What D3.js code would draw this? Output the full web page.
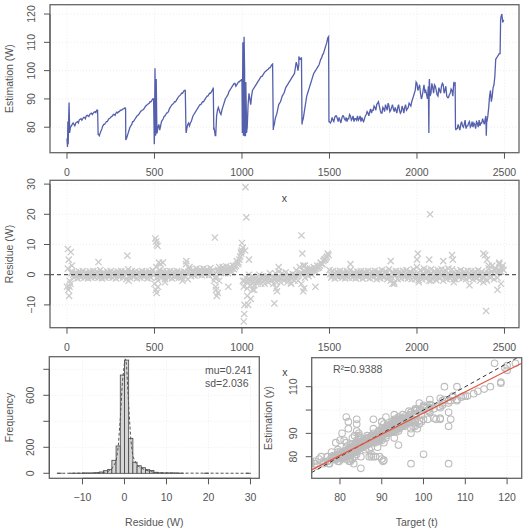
<!DOCTYPE html>
<html>
<head>
<meta charset="utf-8">
<script src="https://cdn.jsdelivr.net/npm/d3@7"></script>
<style>
body { margin: 0; background: #fff; }
text { font-family: "Liberation Sans", Arial, sans-serif; font-size: 10.5px; fill: #555; }
</style>
</head>
<body>
<svg id="chart" width="524" height="529"></svg>
<script>
// estimation (W), readings at samples t = 0, 10, ... 2490
var estimation = [
    76, 84, 80, 81, 81, 81.5, 82, 82.5, 83, 83, 83.5, 84, 84, 84.5, 85, 85, 85.5, 86,
    77.5, 78, 79.5, 81, 81.5, 82, 83, 83.5, 84, 84.5, 85, 85, 85.5, 86, 86.5, 86.8,
    76, 78, 80, 81, 82, 83, 84, 84.5, 85.5, 86, 86.5, 87.5, 88, 88.5, 89, 90,
    77, 79, 80, 79, 82, 83, 84, 85, 85.5, 87, 88, 88.5, 89, 90, 91, 91.5, 92, 93,
    79, 81, 80.5, 82, 84, 85, 86, 87, 88, 88.5, 89, 90, 91, 91.5, 92, 93,
    80, 77, 86, 86, 84.5, 87, 89, 90.5, 91.5, 93, 94, 95, 95.5, 95, 96, 96.5,
    96, 78, 77, 80, 92, 88, 93, 94, 95, 96, 97, 98, 98.5, 99.5, 100, 100.5, 101, 102,
    80, 83, 85, 88, 89, 91, 92, 94, 95, 96, 97, 98, 99, 103, 100, 104,
    104.5, 83, 87, 91, 93, 95, 97, 99, 100, 101, 102, 104, 105.5, 107, 109, 111.5,
    82, 82, 82.5, 83.5, 84, 82, 82.5, 83, 84, 82.5, 82, 83, 84, 83, 82, 83, 84, 83,
    82, 82.5, 83, 84.5, 85, 85.5, 85, 86, 87, 88, 89, 86, 85, 86.5, 88, 86, 87.5, 86,
    88, 85.5, 86, 87, 86, 85.5, 86.5, 87, 86, 87, 88, 89, 91, 93, 95.5, 94, 92, 91,
    95, 93, 90, 96, 92, 94, 95, 93, 91, 93, 94.5, 95, 93, 91, 90.5, 92, 93, 95.5,
    80, 79.5, 80, 81, 80.5, 81, 79.5, 80.5, 82, 80.5, 80, 81, 82, 80, 80.5, 81.5, 82, 83,
    82, 87, 93, 91, 95, 104, 105, 106, 119, 117
];
// estimation (W), readings at samples t = 5, 15, ... 2495
var estimationB = [
    82, 80, 80.5, 81.5, 80.5, 81.8, 81.5, 82.8, 82.5, 83.5, 83, 84.2, 83.8, 84.8, 84.5, 85.3, 85.2, 86,
    77, 78.8, 80.5, 81, 82, 82.5, 83.2, 83.8, 84.5, 84.2, 85.3, 85.5, 86, 86.2, 86.5, 86.5,
    77, 79, 80.5, 82, 82.5, 83.5, 84.2, 85, 85.8, 86.2, 87, 87.8, 88.3, 89, 89.5, 90,
    85, 78, 81, 80.5, 82.5, 83.8, 84.5, 85.2, 86.5, 87.5, 88.2, 89, 89.5, 90.5, 91.2, 92, 92.5, 93,
    79.5, 81.5, 81.5, 83, 84.5, 85.5, 86.5, 87.5, 88, 89, 89.5, 90.5, 91, 92, 92.5, 93.8,
    78, 84, 87, 85, 86, 88, 90, 91, 92.5, 93.5, 94.5, 95.5, 94.5, 95.5, 96, 96.5,
    110, 100, 85, 88, 90, 91, 93.5, 94.5, 95.5, 96.5, 97.5, 98, 99, 99.8, 100.3, 101, 101.5, 102.3,
    81, 84, 86.5, 88.5, 90, 91.5, 93, 94.5, 95.5, 96.5, 97.5, 98.5, 101, 102, 102, 104,
    82, 85, 89, 92, 94, 96, 98, 99.5, 100.5, 101.5, 103, 104.5, 106, 108, 110, 112,
    81.5, 83.5, 82, 84, 83, 83.5, 81.5, 84, 83, 83.5, 83, 84.5, 82.5, 84, 83, 82.5, 82.5, 84,
    83.5, 82, 84, 85.5, 84, 86.5, 86, 87.5, 86, 88.5, 87.5, 85, 87, 85.5, 87, 88.5, 85.5, 87,
    86.5, 87, 85, 88, 85, 87.5, 85, 88, 86.5, 88.5, 87.5, 90, 92, 96, 93, 95, 90, 93,
    92.5, 91.5, 94.5, 91, 95.5, 92, 94.5, 91.5, 94, 92, 95.5, 92, 94.5, 90.5, 91.5, 93.5, 91, 95,
    79.5, 81, 79, 82, 80, 82.5, 80.5, 81.5, 80, 82, 81.5, 79.5, 81.5, 82.5, 81.5, 83, 81, 80,
    84, 91, 89, 94, 98, 104.5, 105.5, 106, 120, 118
];

// sharp spikes and drops between readings
var spikeT = [3, 7, 12, 15, 178, 333, 336, 499, 503, 506, 510, 514, 676, 681, 836, 839, 847,
    997, 1002, 1008, 1012, 1016, 1022, 1026, 1179, 1325, 1338, 1343, 1497,
    2068, 2071, 2218, 2222, 2394, 2396, 2399, 2478];
var spikeV = [73, 74, 88.7, 78, 77.5, 86.8, 75.5, 74, 100.8, 77, 97, 78, 93.2, 78, 94, 79, 77,
    97, 78, 77, 112, 77, 96, 78, 79, 105, 104.5, 81, 82,
    78, 97, 96, 79, 84, 77, 83, 118];

// residue (W) = target - estimation, at t = 0, 10, ... 2490
var residue = [
    -4, 5, -3, 1, -1, 0.8, -1.2, 1, -0.8, 1.2, -1, 0.8, -1.2, 1, -1, 1.2, -0.8, 1,
    -1, 1.5, -1.2, 0.8, -1, 1, -0.8, 1.2, -1, 0.8, -1.2, 1, -0.8, 1.2, -1, 1,
    -1.5, 1.8, -1, 1.2, -0.8, 1, -1.2, 0.8, -1, 1.2, -0.8, 1, -1.2, 1, -1, 1.5,
    -3, 2.5, -2, 1.5, -1, 1.2, -1.5, 1, -1, 1.2, -1.2, 1, -0.8, 1.2, -1, 0.8, -2, 1,
    3.5, -1.5, 1.8, -0.5, 1.5, -0.3, 2, 0, 1.8, -0.2, 2, 0, 1.8, -0.2, 2.2, 0,
    -2, -4, 1, 2.5, 0.5, 2.5, 0.5, 2.8, 0.5, 2.5, 1, 3, 2.5, 4.5, 4, 6,
    8, -4, -1, -4.5, 0, -3.5, -0.5, -3.5, -1, -3, 0, -3, -0.5, -3, -0.5, -2.5, 0.5, -2,
    -3, 0.5, -2.5, 1, -2.5, 0.5, -2, 0.8, -2.5, 0, -2.8, 0.2, -2, 1.5, -2, 2.5,
    -3, 3, -1, 2, -0.5, 2, 0, 2.5, 1, 3, 2.5, 4, 3.5, 5, 5.5, 7,
    1.5, -1, 1.2, -1.2, 1, -0.8, 1.3, -1, 1, -1.2, 1.2, -1, 1.5, -1, 0.8, -1.2, 1, -1,
    1.2, -1.3, 1, -0.8, 1.2, -1.2, 1, -1, 1.3, -1.5, 1, -1.2, 1.5, -1, 1.2, -1.5, 1.8, -2,
    1, -2.5, 1.2, -1.5, 1, -1.2, 1.3, -1, 1.5, -1.2, 1, -1.5, 1.8, -1.5, 2.5, -1.8, 1.5, -1.5,
    2, -1.2, 1.5, -2, 1.8, -1.5, 1.2, -1.8, 1.5, -1.2, 1.8, -2, 1.5, -1.5, 2, -1.2, 1.8, -1.5,
    -1.5, 1.2, -1, 1.5, -1.2, 1, -1.5, 1.3, -1, 1.2, -1.5, 1, -1.2, 1.5, -2, 1, -2.5, 0.5,
    -2, 2, -1, 3, -1.5, 2, -1, 3.5, 1, 3
];
// residue (W) at t = 5, 15, ... 2495
var residueB = [
    2, -2, 0.5, 0, 0.3, -0.3, 0.2, -0.2, 0.4, -0.3, 0.2, -0.4, 0.3, 0, -0.3, 0.4, 0.2, -0.2,
    0.3, -0.3, 0.2, -0.4, 0.3, 0, -0.2, 0.3, 0.2, -0.3, 0.4, -0.2, 0.3, 0, -0.3, 0.5,
    0.5, -0.3, 0.2, 0, -0.4, 0.3, 0.2, -0.3, 0.4, 0, -0.2, 0.3, -0.4, 0.2, 0.3, 0,
    0.5, -1, 0.5, -0.3, 0.2, -0.4, 0.3, 0, -0.3, 0.2, 0.4, -0.2, 0.3, -0.3, 0.2, -1, 0.5, -0.5,
    0.5, 1, 0.5, 1.2, 0.8, 0.6, 1, 0.8, 1.2, 0.7, 1, 0.9, 1.1, 0.8, 1, 1.5,
    -1, -0.5, 1.5, 1.2, 1.5, 1.8, 1.2, 1.6, 1.4, 1.8, 2, 1.8, 3, 3.5, 5, 7.5,
    -2, -2, -2.5, -1.5, -2, -1.8, -2.2, -1.5, -2, -1.5, -1.8, -1.2, -2, -1.5, -1.2, -1, -1.5, -0.8,
    -1, -1.2, -0.8, -1, -1.2, -0.8, -0.5, -1, -1.2, -0.8, -1, -0.5, -0.2, -0.5, 0, 0.5,
    0.5, 1, 0.8, 1, 1, 1.2, 1.5, 1.8, 2, 2.2, 3, 3.5, 4.5, 5, 6, 6.5,
    0.2, -0.3, 0.3, 0, -0.2, 0.4, -0.3, 0.2, 0, -0.4, 0.3, 0.1, -0.2, 0.3, -0.1, 0.2, -0.3, 0.4,
    0, -0.2, 0.3, -0.4, 0.2, 0, -0.3, 0.4, -0.2, 0.1, 0.3, -0.3, 0.2, -0.5, 0.3, -0.5, 0, -0.8,
    0.2, -0.3, 0.4, -0.2, 0, 0.3, -0.3, 0.2, 0.5, -0.4, 0.3, -0.2, 0.5, -0.3, 0.4, 0, -0.4, 0.3,
    -0.2, 0.5, -0.5, 0.2, 0.4, -0.3, 0.2, -0.5, 0.4, 0, -0.3, 0.5, -0.4, 0.3, 0.2, -0.3, 0.5, 0,
    0.2, -0.3, 0.3, 0, -0.4, 0.2, -0.2, 0.3, 0, -0.3, 0.4, -0.2, 0.2, -0.5, 0, -0.8, -1, -1.5,
    0.5, 0.5, 1, 0.5, 1.5, 0.5, 1.5, 1, 2, 1.5
];

// outlying residues: sample, residue, estimation at that sample
var outT = [5, 8, 12, 22, 28, 15, 180, 345, 352, 505, 510, 512, 518, 508, 512, 520, 525, 535, 548, 560,
    682, 700, 845, 852, 856, 862, 870, 922, 1000, 995, 1005, 1010, 1013, 1020, 1025, 1015, 1018, 1030, 1035, 1040,
    1050, 1060, 1070, 1185, 1195, 1200, 1210, 1280, 1340, 1345, 1350, 1355, 1360, 1420, 1620, 1850, 1860, 1870,
    2000, 2005, 2010, 2070, 2075, 2080, 2150, 2200, 2205, 2210, 2300, 2380, 2390, 2395, 2400, 2410, 2460, 2470, 2480];
var outR = [8.5, -5, -7, 7.5, 3, -4, 4.2, 6.3, -2, 12, 11, 10, 9.5, -5, -6, -4, 4, 3.5, 4, -2.5,
    4.5, 2.5, 12.3, -5, -7, -6, -2, -4, 10.5, 7, 9, -15.5, -13, 29, 19, -10, 8, -7, -10, 5,
    -8, -5, -5, -9.5, -4.5, -5.5, 2.5, -3, 13, 7, -5.5, -4.5, 3, -4, 3.5, 4.5, -3, -3,
    5, 7, -2.5, 5, 20, -2, 4.5, 6.5, 5, -2.5, -3.5, 7, 6.5, -12, 5, 3, -5, 4, -3];
var outE = [80, 78, 86, 80, 81, 79, 78, 77, 78, 78.5, 79, 75, 80, 95, 97, 82, 79, 80, 83, 84,
    78, 80, 78, 88, 87, 87, 86, 92, 96, 96, 85, 97, 95, 77, 81, 92, 80, 91, 94, 88,
    96, 98, 95, 90, 86, 89, 87, 97, 93, 99, 90, 89, 87, 103, 84, 86, 88, 87,
    94, 90, 96, 92, 77, 96, 93, 92, 93, 96, 83, 80, 81, 96, 80, 88, 110, 106, 120];

// histogram of residues, bins of width 1 starting at -16
var histStart = -16;
var histCounts = [1, 0, 0, 1, 1, 1, 3, 2, 3, 5, 10, 20, 30, 100, 210, 756, 871, 269, 85, 58, 43, 28, 22, 8,
    4, 3, 3, 3, 2, 1, 0, 0, 0, 0, 0, 1, 0, 0, 0, 0, 0, 0, 0, 0, 0, 1];
var densX = [-16, -8, -6, -4, -3, -2, -1.5, -1, -0.5, 0, 0.25, 0.5, 1, 1.5, 2, 3, 4, 5, 6, 7, 8, 10, 14, 20, 30];
var densY = [0, 1, 3, 12, 35, 90, 200, 420, 700, 850, 880, 830, 520, 260, 130, 60, 40, 25, 15, 8, 4, 2, 1, 1, 0];
var mu = 0.241, sd = 2.036;

// linear fit of estimation on target
var fitCoef = [7.7, 0.91];
var r2 = 0.9388;

// axis limits and ticks
var idxLim = [-97, 2583], estLim = [71.0, 123.3], resLim = [-17.55, 31.26];
var histXLim = [-17.9, 32.1], freqLim = [-38.5, 897];
var tgtLim = [73.23, 123.5], estYLim = [70.74, 122.43];
var idxTicks = [0, 500, 1000, 1500, 2000, 2500];
var estTicks = [80, 90, 100, 110, 120];
var resTicks = [-10, 0, 10, 20, 30];
var histTicks = [-10, 0, 10, 20, 30];
var freqTicks = [0, 200, 400, 600, 800], freqLabels = [0, 200, 600];
var tgtTicks = [80, 90, 100, 110, 120];
var estYTicks = [80, 90, 100, 110], estYLabels = [80, 90, 110];

var svg = d3.select("#chart");
var axisCol = "#555", boxCol = "#666";

function axis(g, scale, ticks, labels, side, pos) {
    var a = g.append("g").attr("stroke", axisCol);
    if (side == "bottom") {
        a.append("line").attr("x1", scale(ticks[0])).attr("x2", scale(ticks[ticks.length - 1]))
            .attr("y1", pos).attr("y2", pos);
        ticks.forEach(function (t) {
            a.append("line").attr("x1", scale(t)).attr("x2", scale(t)).attr("y1", pos).attr("y2", pos + 6);
        });
        labels.forEach(function (t) {
            g.append("text").attr("x", scale(t)).attr("y", pos + 23).attr("text-anchor", "middle").text(t < 0 ? "\u2212" + (-t) : t);
        });
    } else {
        a.append("line").attr("y1", scale(ticks[0])).attr("y2", scale(ticks[ticks.length - 1]))
            .attr("x1", pos).attr("x2", pos);
        ticks.forEach(function (t) {
            a.append("line").attr("y1", scale(t)).attr("y2", scale(t)).attr("x1", pos).attr("x2", pos - 6);
        });
        labels.forEach(function (t) {
            g.append("text").attr("transform", "translate(" + (pos - 15) + "," + scale(t) + ") rotate(-90)")
                .attr("text-anchor", "middle").text(t < 0 ? "\u2212" + (-t) : t);
        });
    }
}

function grid(g, x, y, xt, yt) {
    var gg = g.append("g").attr("stroke", "#e8e8e8").attr("stroke-dasharray", "1,2").attr("stroke-width", 0.8);
    xt.forEach(function (t) {
        gg.append("line").attr("x1", x(t)).attr("x2", x(t)).attr("y1", y.range()[0]).attr("y2", y.range()[1]);
    });
    yt.forEach(function (t) {
        gg.append("line").attr("y1", y(t)).attr("y2", y(t)).attr("x1", x.range()[0]).attr("x2", x.range()[1]);
    });
}

function box(g, x, y) {
    g.append("rect").attr("x", x.range()[0]).attr("y", y.range()[1])
        .attr("width", x.range()[1] - x.range()[0]).attr("height", y.range()[0] - y.range()[1])
        .attr("fill", "none").attr("stroke", boxCol).attr("stroke-width", 1.3);
}

function ytitle(g, x, y, label) {
    var yc = (y.range()[0] + y.range()[1]) / 2;
    g.append("text").attr("transform", "translate(" + x + "," + yc + ") rotate(-90)")
        .attr("text-anchor", "middle").text(label);
}

function xtitle(g, x, label) {
    var xc = (x.range()[0] + x.range()[1]) / 2;
    g.append("text").attr("x", xc).attr("y", 526).attr("text-anchor", "middle").text(label);
}

// all readings as [t, estimation, residue]
var samples = estimation.map(function (e, i) { return [i * 10, e, residue[i]]; })
    .concat(estimationB.map(function (e, i) { return [i * 10 + 5, e, residueB[i]]; }));
samples.sort(function (a, b) { return a[0] - b[0]; });

// ---------- top: estimation series ----------
var x1 = d3.scaleLinear().domain(idxLim).range([50, 519]);
var y1 = d3.scaleLinear().domain(estLim).range([152.7, 4.7]);
var g1 = svg.append("g");
grid(g1, x1, y1, idxTicks, estTicks);
var linePts = samples.map(function (d) { return [d[0], d[1]]; })
    .concat(spikeT.map(function (t, i) { return [t, spikeV[i]]; }));
linePts.sort(function (a, b) { return a[0] - b[0]; });
g1.append("path")
    .attr("d", d3.line().x(function (d) { return x1(d[0]); }).y(function (d) { return y1(d[1]); })(linePts))
    .attr("fill", "none").attr("stroke", "#5560ad").attr("stroke-width", 1.3);
box(g1, x1, y1);
axis(g1, x1, idxTicks, idxTicks, "bottom", 152.7);
axis(g1, y1, estTicks, estTicks, "left", 50);
ytitle(g1, 13, y1, "Estimation (W)");

// ---------- middle: residues ----------
var x2 = d3.scaleLinear().domain(idxLim).range([50, 519]);
var y2 = d3.scaleLinear().domain(resLim).range([327.7, 180.3]);
var g2 = svg.append("g");
grid(g2, x2, y2, idxTicks, resTicks);
var resPts = samples.map(function (d) { return [d[0], d[2]]; })
    .concat(outT.map(function (t, i) { return [t, outR[i]]; }));
var cross = function (d) {
    var cx = x2(d[0]), cy = y2(d[1]), s = 3.1;
    return "M" + (cx - s) + "," + (cy - s) + "L" + (cx + s) + "," + (cy + s) +
        "M" + (cx - s) + "," + (cy + s) + "L" + (cx + s) + "," + (cy - s);
};
g2.append("g").selectAll("path").data(resPts).enter().append("path")
    .attr("d", cross).attr("stroke", "#cbcbcb").attr("stroke-width", 1.3).attr("fill", "none");
g2.append("line").attr("x1", x2.range()[0]).attr("x2", x2.range()[1]).attr("y1", y2(0)).attr("y2", y2(0))
    .attr("stroke", "#333").attr("stroke-dasharray", "4,3").attr("stroke-width", 1);
g2.append("text").attr("x", x2(1242)).attr("y", y2(25.3) + 3.5).attr("text-anchor", "middle")
    .style("fill", "#444").text("x");
box(g2, x2, y2);
axis(g2, x2, idxTicks, idxTicks, "bottom", 327.7);
axis(g2, y2, resTicks, resTicks, "left", 50);
ytitle(g2, 13, y2, "Residue (W)");

// ---------- bottom left: histogram ----------
var x3 = d3.scaleLinear().domain(histXLim).range([49.3, 259.3]);
var y3 = d3.scaleLinear().domain(freqLim).range([478.3, 356.7]);
var g3 = svg.append("g");
grid(g3, x3, y3, histTicks, freqTicks);
g3.append("g").selectAll("rect").data(histCounts).enter().append("rect")
    .attr("x", function (d, i) { return x3(histStart + i); })
    .attr("width", function (d, i) { return x3(histStart + i + 1) - x3(histStart + i); })
    .attr("y", function (d) { return y3(d); })
    .attr("height", function (d) { return y3(0) - y3(d); })
    .attr("fill", "#d6d6d6").attr("stroke", "#444").attr("stroke-width", 0.8);
g3.append("path")
    .attr("d", d3.line().x(function (d) { return x3(d); }).y(function (d, i) { return y3(densY[i]); })(densX))
    .attr("fill", "none").attr("stroke", "#555").attr("stroke-dasharray", "3,2").attr("stroke-width", 1);
g3.append("text").attr("x", 205).attr("y", 374).text("mu=" + mu);
g3.append("text").attr("x", 205).attr("y", 386.5).text("sd=" + sd);
box(g3, x3, y3);
axis(g3, x3, histTicks, histTicks, "bottom", 478.3);
axis(g3, y3, freqTicks, freqLabels, "left", 49.3);
ytitle(g3, 13, y3, "Frequency");
xtitle(g3, x3, "Residue (W)");

// ---------- bottom right: target vs estimation ----------
var x4 = d3.scaleLinear().domain(tgtLim).range([311.7, 521.7]);
var y4 = d3.scaleLinear().domain(estYLim).range([478.3, 357.7]);
var g4 = svg.append("g");
grid(g4, x4, y4, tgtTicks, estYTicks);
var scPts = samples.map(function (d) { return [d[1] + d[2], d[1]]; })
    .concat(outE.map(function (e, i) { return [e + outR[i], e]; }));
g4.append("clipPath").attr("id", "scClip").append("rect")
    .attr("x", x4.range()[0]).attr("y", y4.range()[1])
    .attr("width", x4.range()[1] - x4.range()[0]).attr("height", y4.range()[0] - y4.range()[1]);
var inner = g4.append("g").attr("clip-path", "url(#scClip)");
inner.append("g").selectAll("circle").data(scPts).enter().append("circle")
    .attr("cx", function (d) { return x4(d[0]); }).attr("cy", function (d) { return y4(d[1]); })
    .attr("r", 3.3).attr("fill", "none").attr("stroke", "#bdbdbd").attr("stroke-width", 1.1);
inner.append("line").attr("x1", x4(tgtLim[0])).attr("y1", y4(tgtLim[0]))
    .attr("x2", x4(tgtLim[1])).attr("y2", y4(tgtLim[1]))
    .attr("stroke", "#333").attr("stroke-dasharray", "4,3").attr("stroke-width", 1);
inner.append("line").attr("x1", x4(tgtLim[0])).attr("y1", y4(fitCoef[0] + fitCoef[1] * tgtLim[0]))
    .attr("x2", x4(tgtLim[1])).attr("y2", y4(fitCoef[0] + fitCoef[1] * tgtLim[1]))
    .attr("stroke", "#e5553f").attr("stroke-width", 1.2);
g4.append("text").attr("x", 333).attr("y", 373).text("R\u00b2=" + r2);
g4.append("text").attr("x", x4(66.8)).attr("y", y4(116.3) + 3.5).attr("text-anchor", "middle")
    .style("fill", "#444").text("x");
box(g4, x4, y4);
axis(g4, x4, tgtTicks, tgtTicks, "bottom", 478.3);
axis(g4, y4, estYTicks, estYLabels, "left", 311.7);
ytitle(g4, 272, y4, "Estimation (y)");
xtitle(g4, x4, "Target (t)");
</script>
</body>
</html>
